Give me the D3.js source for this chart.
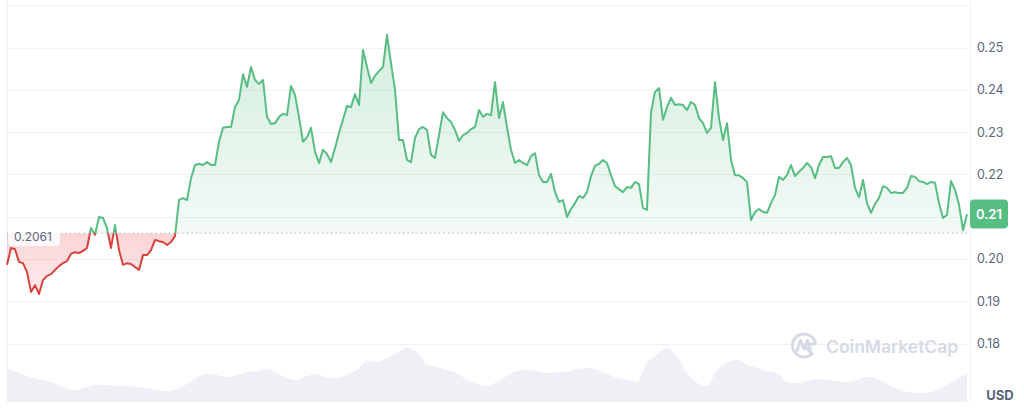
<!DOCTYPE html>
<html>
<head>
<meta charset="utf-8">
<script src="https://cdn.jsdelivr.net/npm/d3@7"></script>
<style>
  html, body { margin: 0; padding: 0; background: #ffffff; }
  svg { display: block; font-family: Inter, "Noto Sans", sans-serif; }
</style>
</head>
<body>
<svg id="chart" width="1024" height="409"></svg>
<script>
// ---- data ----
const prices = [
  0.1986,0.2026,0.2023,0.1993,0.1990,0.1969,0.1922,0.1938,0.1917,0.1950,
  0.1960,0.1964,0.1974,0.1983,0.1990,0.1995,0.2012,0.2016,0.2014,0.2019,
  0.2026,0.2073,0.2057,0.2099,0.2097,0.2073,0.2026,0.2080,0.2021,0.1986,
  0.1990,0.1988,0.1981,0.1974,0.2009,0.2009,0.2021,0.2045,0.2042,0.2040,
  0.2033,0.2040,0.2054,0.2139,0.2144,0.2139,0.2191,0.2222,0.2225,0.2222,
  0.2229,0.2222,0.2222,0.2277,0.2310,0.2312,0.2312,0.2359,0.2376,0.2437,
  0.2407,0.2454,0.2423,0.2414,0.2423,0.2336,0.2319,0.2321,0.2336,0.2343,
  0.2340,0.2409,0.2388,0.2336,0.2277,0.2288,0.2310,0.2253,0.2227,0.2258,
  0.2248,0.2229,0.2262,0.2298,0.2329,0.2362,0.2359,0.2390,0.2364,0.2494,
  0.2454,0.2416,0.2433,0.2444,0.2454,0.2530,0.2463,0.2400,0.2281,0.2281,
  0.2234,0.2229,0.2286,0.2307,0.2312,0.2305,0.2246,0.2239,0.2293,0.2347,
  0.2333,0.2324,0.2305,0.2279,0.2293,0.2298,0.2307,0.2312,0.2352,0.2336,
  0.2343,0.2340,0.2418,0.2333,0.2371,0.2312,0.2258,0.2227,0.2234,0.2227,
  0.2222,0.2243,0.2250,0.2198,0.2182,0.2182,0.2201,0.2158,0.2135,0.2139,
  0.2099,0.2118,0.2132,0.2149,0.2144,0.2158,0.2196,0.2220,0.2225,0.2234,
  0.2227,0.2198,0.2172,0.2165,0.2158,0.2170,0.2168,0.2182,0.2177,0.2120,
  0.2116,0.2347,0.2395,0.2404,0.2329,0.2359,0.2381,0.2364,0.2366,0.2364,
  0.2352,0.2371,0.2364,0.2333,0.2321,0.2298,0.2310,0.2418,0.2333,0.2281,
  0.2321,0.2234,0.2198,0.2198,0.2191,0.2182,0.2092,0.2111,0.2118,0.2111,
  0.2109,0.2132,0.2151,0.2194,0.2187,0.2198,0.2222,0.2196,0.2206,0.2215,
  0.2227,0.2217,0.2191,0.2222,0.2241,0.2241,0.2243,0.2215,0.2215,0.2229,
  0.2239,0.2222,0.2168,0.2146,0.2187,0.2132,0.2109,0.2130,0.2144,0.2172,
  0.2168,0.2156,0.2158,0.2156,0.2156,0.2168,0.2196,0.2194,0.2184,0.2182,
  0.2177,0.2182,0.2180,0.2132,0.2097,0.2104,0.2184,0.2163,0.2128,0.2068,
  0.2106
];
const volumes = [
  33,30,26,23,21,18,13,12,15,17,17,16,16,15,14,12,11,13,18,25,
  28,27,25,27,30,31,33,29,24,22,26,28,24,24,27,32,41,40,44,49,
  54,50,37,35,32,29,22,18,16,20,26,31,32,31,29,30,30,33,34,32,
  28,24,22,20,39,47,54,45,29,19,16,32,39,42,37,34,31,29,20,19,
  21,23,22,21,20,22,25,23,18,13,10,9,9,12,17,23,28
];
// 0.21 is hidden under the current-price tag in the reference
const axisTicks = [0.18, 0.19, 0.20, 0.22, 0.23, 0.24, 0.25];
const gridTicks = [0.18, 0.19, 0.20, 0.21, 0.22, 0.23, 0.24, 0.25, 0.26];
const openPrice = 0.2061;
const openLabel = "0.2061";
const currentLabel = "0.21";
const currencyLabel = "USD";
const watermark = "CoinMarketCap";

// ---- styles ----
const GREEN = "#58bd83";
const RED = "#d9433d";
const GRID = "#eff1f4";
const TEXT = "#58667e";

const svg = d3.select("#chart");
const left = 7, right = 970;

const x = d3.scaleLinear().domain([0, prices.length - 1]).range([left, 967]);
const y = d3.scaleLinear().domain([0.18, 0.25]).range([343.5, 47.5]);
const xv = d3.scaleLinear().domain([0, volumes.length - 1]).range([left, 967]);
const yv = d3.scaleLinear().domain([0, 60]).range([402, 342]);

const defs = svg.append("defs");
const by = y(openPrice);

const gG = defs.append("linearGradient").attr("id", "gGreen")
  .attr("gradientUnits", "userSpaceOnUse").attr("x1", 0).attr("x2", 0)
  .attr("y1", y(0.253)).attr("y2", by);
gG.append("stop").attr("offset", 0).attr("stop-color", GREEN).attr("stop-opacity", 0.26);
gG.append("stop").attr("offset", 1).attr("stop-color", GREEN).attr("stop-opacity", 0.07);

const gR = defs.append("linearGradient").attr("id", "gRed")
  .attr("gradientUnits", "userSpaceOnUse").attr("x1", 0).attr("x2", 0)
  .attr("y1", by).attr("y2", y(0.19));
gR.append("stop").attr("offset", 0).attr("stop-color", "#ea3943").attr("stop-opacity", 0.22);
gR.append("stop").attr("offset", 1).attr("stop-color", "#ea3943").attr("stop-opacity", 0.08);

defs.append("clipPath").attr("id", "above").append("rect")
  .attr("x", 0).attr("y", 0).attr("width", 1024).attr("height", by);
defs.append("clipPath").attr("id", "below").append("rect")
  .attr("x", 0).attr("y", by).attr("width", 1024).attr("height", 409 - by);

// grid
svg.append("g").selectAll("line").data(gridTicks).join("line")
  .attr("x1", left).attr("x2", right)
  .attr("y1", d => Math.round(y(d)) + 0.5).attr("y2", d => Math.round(y(d)) + 0.5)
  .attr("stroke", GRID).attr("stroke-width", 1);
svg.append("line").attr("x1", left + 0.5).attr("x2", left + 0.5).attr("y1", 0).attr("y2", 403)
  .attr("stroke", GRID);
svg.append("line").attr("x1", right + 0.5).attr("x2", right + 0.5).attr("y1", 0).attr("y2", 403)
  .attr("stroke", GRID);

// volume
svg.append("path").datum(volumes)
  .attr("d", d3.area().x((d, i) => xv(i)).y0(yv(0)).y1(d => yv(d)).curve(d3.curveMonotoneX))
  .attr("fill", "#eef0f5");

// price areas
const area = d3.area().x((d, i) => x(i)).y0(by).y1(d => y(d));
svg.append("path").datum(prices).attr("d", area).attr("fill", "url(#gGreen)").attr("clip-path", "url(#above)");
svg.append("path").datum(prices).attr("d", area).attr("fill", "url(#gRed)").attr("clip-path", "url(#below)");

// baseline dotted
svg.append("line").attr("x1", left).attr("x2", right).attr("y1", by).attr("y2", by)
  .attr("stroke", "#a3abb8").attr("stroke-width", 1).attr("stroke-dasharray", "1.2,3.3");

// price lines
const line = d3.line().x((d, i) => x(i)).y(d => y(d));
svg.append("path").datum(prices).attr("d", line).attr("fill", "none").attr("stroke", GREEN)
  .attr("stroke-width", 2).attr("stroke-linejoin", "round").attr("clip-path", "url(#above)");
svg.append("path").datum(prices).attr("d", line).attr("fill", "none").attr("stroke", RED)
  .attr("stroke-width", 2).attr("stroke-linejoin", "round").attr("clip-path", "url(#below)");

// watermark
const wm = svg.append("g").attr("fill", "none").attr("stroke", "#d5dae5");
wm.append("path").attr("d", d3.arc()({innerRadius: 0, outerRadius: 11.5, startAngle: Math.PI * 0.75, endAngle: Math.PI * 2.45}))
  .attr("transform", "translate(804,345.5)").attr("stroke-width", 3).attr("stroke-linecap", "round");
wm.append("path").attr("d", "M797,351 L800.5,340.5 L804,349 L807.5,340.5 L810.5,349.5")
  .attr("stroke-width", 3).attr("stroke-linejoin", "round").attr("stroke-linecap", "round");
svg.append("text").attr("x", 826).attr("y", 352.5).text(watermark)
  .attr("fill", "#d5dae5").attr("font-size", 17.5).attr("font-weight", 600);

// right axis
const axis = svg.append("g").attr("transform", `translate(${right},0)`)
  .call(d3.axisRight(y).tickValues(axisTicks).tickSize(0).tickPadding(7).tickFormat(d3.format(".2f")));
axis.select(".domain").remove();
axis.selectAll("text").attr("fill", TEXT).attr("font-size", 12.5).attr("font-family", "Inter, sans-serif");

// open price label
const ol = svg.append("g");
ol.append("rect").attr("x", 8).attr("y", by - 6).attr("width", 52).attr("height", 19).attr("rx", 4)
  .attr("fill", "#ffffff").attr("fill-opacity", 0.8);
ol.append("text").attr("x", 14).attr("y", by + 7.5).text(openLabel)
  .attr("fill", TEXT).attr("font-size", 12);

// current price tag
const last = prices[prices.length - 1];
const ty = y(last);
svg.append("rect").attr("x", right).attr("y", ty - 14.5).attr("width", 38).attr("height", 29).attr("rx", 4)
  .attr("fill", GREEN);
svg.append("text").attr("x", right + 19).attr("y", ty + 4.5).attr("text-anchor", "middle")
  .text(currentLabel).attr("fill", "#ffffff").attr("font-size", 13).attr("font-weight", 600);

// currency
svg.append("text").attr("x", 1000).attr("y", 400).attr("text-anchor", "middle")
  .text(currencyLabel).attr("fill", TEXT).attr("font-size", 13).attr("font-weight", 700);
</script>
</body>
</html>
